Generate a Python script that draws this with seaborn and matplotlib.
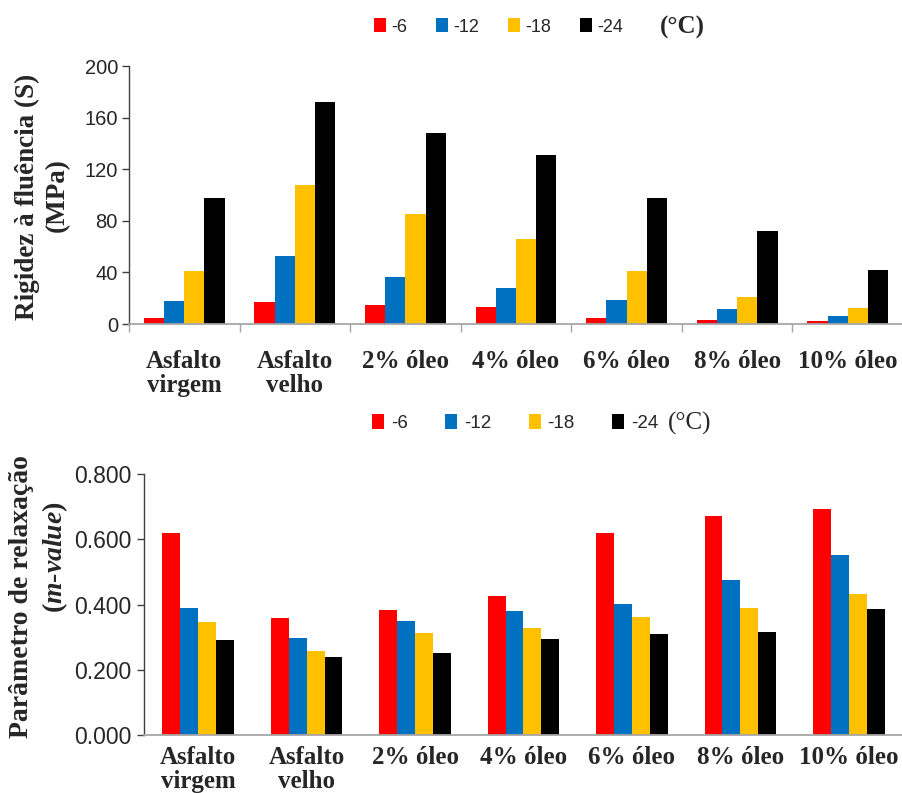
import matplotlib
matplotlib.use("Agg")
import matplotlib.pyplot as plt
import seaborn as sns
import pandas as pd
from matplotlib.patches import Patch
from matplotlib.ticker import MultipleLocator, FormatStrFormatter

# ---------------- data ----------------
categories = ["Asfalto\nvirgem", "Asfalto\nvelho", "2% óleo", "4% óleo",
              "6% óleo", "8% óleo", "10% óleo"]
temps = ["-6", "-12", "-18", "-24"]
colors = ["#FF0000", "#0070C0", "#FFC000", "#000000"]

# creep stiffness S (MPa)
s_m6 = [4.4, 17.3, 14.7, 12.9, 4.4, 2.8, 2.3]
s_m12 = [17.8, 52.6, 36.6, 28.1, 18.8, 11.6, 6.2]
s_m18 = [41.2, 108.0, 85.6, 66.0, 40.7, 21.1, 12.1]
s_m24 = [97.7, 171.9, 148.0, 131.0, 97.7, 72.4, 41.8]

# m-value
m_m6 = [0.619, 0.360, 0.384, 0.427, 0.619, 0.670, 0.694]
m_m12 = [0.390, 0.298, 0.348, 0.380, 0.401, 0.474, 0.552]
m_m18 = [0.345, 0.256, 0.313, 0.329, 0.363, 0.389, 0.432]
m_m24 = [0.292, 0.238, 0.252, 0.295, 0.309, 0.316, 0.387]

s_df = pd.DataFrame({"cat": categories * 4,
                     "temp": sum([[t] * 7 for t in temps], []),
                     "val": s_m6 + s_m12 + s_m18 + s_m24})
m_df = pd.DataFrame({"cat": categories * 4,
                     "temp": sum([[t] * 7 for t in temps], []),
                     "val": m_m6 + m_m12 + m_m18 + m_m24})

palette = dict(zip(temps, colors))

sns.set_theme(style="white")
plt.rcParams["font.family"] = ["Liberation Sans", "DejaVu Sans"]
plt.rcParams["mathtext.fontset"] = "custom"
plt.rcParams["mathtext.rm"] = "Liberation Serif:bold"
plt.rcParams["mathtext.it"] = "Liberation Serif:italic:bold"
plt.rcParams["mathtext.bf"] = "Liberation Serif:bold"

W, H = 903, 793
fig = plt.figure(figsize=(W / 100, H / 100), dpi=100)

def fx(px):
    return px / W

def fy(py):
    return 1 - py / H

ax1 = fig.add_axes([fx(129), fy(324), fx(903) - fx(129), fy(66) - fy(324)])
ax2 = fig.add_axes([fx(144), fy(735), fx(903) - fx(144), fy(474) - fy(735)])

sns.barplot(data=s_df, x="cat", y="val", hue="temp", order=categories,
            hue_order=temps, palette=palette, errorbar=None, width=0.73,
            saturation=1, legend=False, linewidth=0, ax=ax1)
sns.barplot(data=m_df, x="cat", y="val", hue="temp", order=categories,
            hue_order=temps, palette=palette, errorbar=None, width=0.66,
            saturation=1, legend=False, linewidth=0, ax=ax2)

serif_bold = dict(family="Liberation Serif", weight="bold")

for ax in (ax1, ax2):
    ax.set_xlim(-0.5, 6.5)
    ax.set_xlabel("")
    ax.set_ylabel("")
    for sp in ("top", "right"):
        ax.spines[sp].set_visible(False)
    ax.spines["left"].set_color("#404040")
    ax.spines["left"].set_linewidth(1.0)
    ax.spines["bottom"].set_color("#A6A6A6")
    ax.spines["bottom"].set_linewidth(1.3)
    ax.tick_params(axis="y", direction="out", length=5, width=1,
                   color="#404040", left=True)
    for lab in ax.get_xticklabels():
        lab.set_fontfamily("Liberation Serif")
        lab.set_fontweight("bold")
        lab.set_fontsize(18)
        lab.set_linespacing(1.05)

# top axis
ax1.set_ylim(0, 200)
ax1.yaxis.set_major_locator(MultipleLocator(40))
ax1.tick_params(axis="y", labelsize=14.5, pad=3)
ax1.set_xticks([i - 0.5 for i in range(8)], minor=True)
ax1.tick_params(axis="x", which="major", length=0, pad=19)
ax1.tick_params(axis="x", which="minor", length=6, width=1,
                color="#A6A6A6", direction="out", bottom=True)

# bottom axis
ax2.set_ylim(0, 0.8)
ax2.yaxis.set_major_locator(MultipleLocator(0.2))
ax2.yaxis.set_major_formatter(FormatStrFormatter("%.3f"))
ax2.tick_params(axis="y", labelsize=16.5, pad=4)
ax2.tick_params(axis="x", which="major", length=0, pad=8)

# y labels
fig.text(fx(27), fy(197), "Rigidez à fluência (S)", rotation=90,
         ha="center", va="center", fontsize=19.5, **serif_bold)
fig.text(fx(57), fy(195), "(MPa)", rotation=90,
         ha="center", va="center", fontsize=19.5, **serif_bold)
fig.text(fx(22), fy(597), "Parâmetro de relaxação", rotation=90,
         ha="center", va="center", fontsize=20, **serif_bold)
fig.text(fx(55), fy(557), r"($\mathit{m}$-$\mathit{value}$)", rotation=90,
         ha="center", va="center", fontsize=20, **serif_bold)

# legends
handles = [Patch(facecolor=c, edgecolor="none", label=t)
           for t, c in zip(temps, colors)]
fig.legend(handles=handles, loc="center left",
           bbox_to_anchor=(fx(374), fy(27)), ncol=4, frameon=False,
           fontsize=13, handlelength=0.65, handleheight=0.8,
           handletextpad=0.3, columnspacing=1.6, borderpad=0,
           borderaxespad=0)
fig.text(fx(660), fy(27), "(°C)", ha="left", va="center", fontsize=18,
         **serif_bold)

fig.legend(handles=handles, loc="center left",
           bbox_to_anchor=(fx(372), fy(423)), ncol=4, frameon=False,
           fontsize=13.5, handlelength=0.65, handleheight=0.8,
           handletextpad=0.35, columnspacing=2.0, borderpad=0,
           borderaxespad=0)
fig.text(fx(668), fy(423), "(°C)", ha="left", va="center", fontsize=18,
         family="Liberation Serif")

fig.savefig("out.png", dpi=100)
